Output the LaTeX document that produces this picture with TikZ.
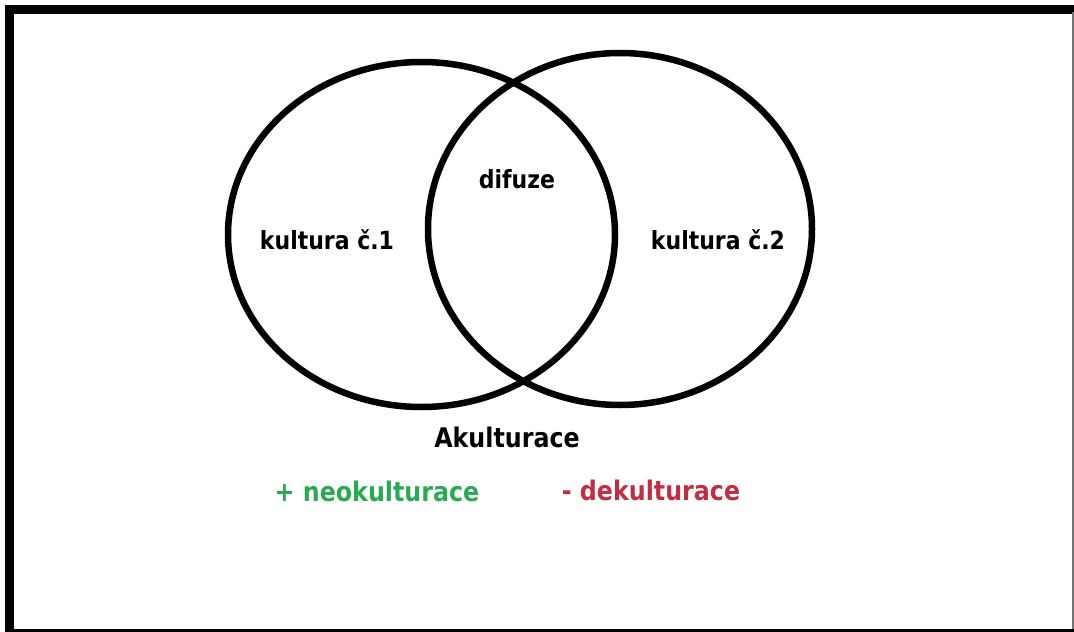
\documentclass[tikz,border=0pt]{standalone}
\usepackage{fontspec}
\newfontfamily\lblfont{DejaVu Sans}[FakeStretch=0.88]
\usepackage{tikz}

\definecolor{neogreen}{RGB}{40,170,80}
\definecolor{dekred}{RGB}{195,45,65}

\begin{document}
\begin{tikzpicture}[x=1pt,y=-1pt,
    lbl/.style={inner sep=0pt,font=\lblfont\bfseries\fontsize{25}{30}\selectfont},
    biglbl/.style={inner sep=0pt,font=\lblfont\bfseries\fontsize{27}{32}\selectfont},
    ring/.style={line width=6.5pt}]
        \useasboundingbox (0,0) rectangle (1074,632);

        \coordinate (c1) at (421.5,234.5);
        \coordinate (c2) at (620,229);

        % frame
        \draw[line width=8.5pt] (9.5,632) |- (1074,9.3);
        \draw[line width=2pt,black!55] (1072.5,12) -- (1072.5,629);
        \draw[line width=3pt] (12,630.5) -- (1074,630.5);

        % the two cultures
        \draw[ring] (c1) ellipse [x radius=193.5, y radius=172.5];
        \draw[ring] (c2) ellipse [x radius=192, y radius=176];

        \node[lbl] (k1) at (327,240) {kultura č.1};
        \node[lbl] (dif) at (517,179) {difuze};
        \node[lbl] (k2) at (718,240) {kultura č.2};

        \node[biglbl] (aku) at (507,437) {Akulturace};
        \node[biglbl,text=neogreen] (neo) at (377,491) {+ neokulturace};
        \node[biglbl,text=dekred] (dek) at (651,490) {- dekulturace};
    \end{tikzpicture}
\end{document}
